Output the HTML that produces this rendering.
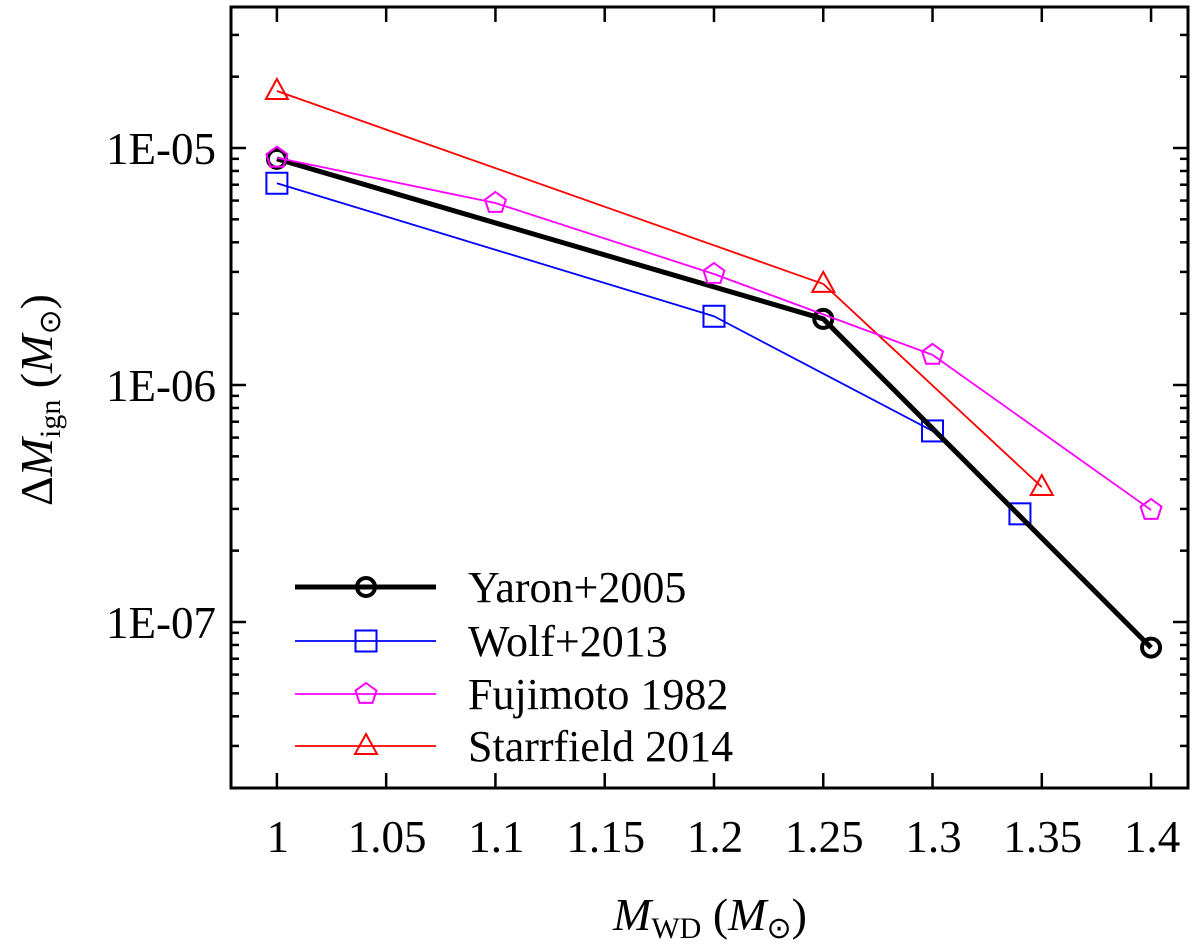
<!DOCTYPE html>
<html><head><meta charset="utf-8"><style>
body{margin:0;background:#fff}
svg text{font-family:"Liberation Serif",serif;fill:#000}
</style></head><body>
<svg id="c" width="1200" height="946" xmlns="http://www.w3.org/2000/svg"></svg>
<script>
const xTicks=[1,1.05,1.1,1.15,1.2,1.25,1.3,1.35,1.4];
const xTickLabels=["1","1.05","1.1","1.15","1.2","1.25","1.3","1.35","1.4"];
const yMajor=[1e-5,1e-6,1e-7];
const yMajorLabels=["1E-05","1E-06","1E-07"];
const yaronX=[1.0,1.25,1.4];
const yaronY=[9.0e-6,1.9e-6,7.8e-8];
const wolfX=[1.0,1.2,1.3,1.34];
const wolfY=[7.1e-6,1.95e-6,6.4e-7,2.86e-7];
const fujiX=[1.0,1.1,1.2,1.3,1.4];
const fujiY=[9.1e-6,5.86e-6,2.94e-6,1.34e-6,2.97e-7];
const starX=[1.0,1.25,1.35];
const starY=[1.74e-5,2.67e-6,3.71e-7];
const L=231,R=1188,T=7,B=788;
const X0=0.979,X1=1.4169;
function sx(v){return L+(v-X0)/(X1-X0)*(R-L);}
function sy(v){return 148-(Math.log10(v)+5)*237;}
const svg=document.getElementById('c');
const NS="http://www.w3.org/2000/svg";
function mk(tag,attrs,parent){const e=document.createElementNS(NS,tag);for(const k in attrs)e.setAttribute(k,attrs[k]);(parent||svg).appendChild(e);return e;}
for(let i=0;i<xTicks.length;i++){
  const x=sx(xTicks[i]);
  const t1=mk('line',{x1:x,y1:B,x2:x,y2:B-15,stroke:'#000','stroke-width':2.5});
  
  
  mk('line',{x1:x,y1:T,x2:x,y2:T+15,stroke:'#000','stroke-width':2.5});
  const tl=mk('text',{x:x+1,y:852,'font-size':45,'text-anchor':'middle'});
  tl.textContent=xTickLabels[i];
  
  
}
for(let d=-8;d<=-5;d++){
  for(let m=1;m<=9;m++){
    const v=m*Math.pow(10,d);
    const y=sy(v);
    if(y<T+1||y>B-1)continue;
    const len=m===1?15:8;
    const t=mk('line',{x1:L,y1:y,x2:L+len,y2:y,stroke:'#000','stroke-width':2.5});
    
    
    mk('line',{x1:R,y1:y,x2:R-len,y2:y,stroke:'#000','stroke-width':2.5});
  }
}
for(let i=0;i<yMajor.length;i++){
  const tl=mk('text',{x:216,y:sy(yMajor[i])+16,'font-size':45,'text-anchor':'end'});
  tl.textContent=yMajorLabels[i];
  
  
}
function marker(type,x,y,color,name,parent){
  let e;
  if(type==='circle')e=mk('circle',{cx:x,cy:y,r:9,fill:'none',stroke:color,'stroke-width':4},parent);
  else if(type==='square')e=mk('rect',{x:x-10.5,y:y-10.5,width:21,height:21,fill:'none',stroke:color,'stroke-width':2},parent);
  else if(type==='pent'){let p=[];for(let k=0;k<5;k++){const a=-Math.PI/2+k*2*Math.PI/5;p.push((x+11*Math.cos(a)).toFixed(1)+','+(y+11*Math.sin(a)).toFixed(1));}e=mk('polygon',{points:p.join(' '),fill:'none',stroke:color,'stroke-width':2},parent);}
  else e=mk('polygon',{points:`${x},${y-12} ${x+11},${y+8} ${x-11},${y+8}`,fill:'none',stroke:color,'stroke-width':2},parent);
  
  
}
function series(xs,ys,color,w,type,name){
  const g=mk('g',{});
  
  
  const pts=xs.map((v,i)=>sx(v)+','+sy(ys[i])).join(' ');
  const pl=mk('polyline',{points:pts,fill:'none',stroke:color,'stroke-width':w,'stroke-linejoin':'round'},g);
  
  
  xs.forEach((v,i)=>marker(type,sx(v),sy(ys[i]),color,name+'-point',g));
}
series(starX,starY,'#f00',1.8,'tri','starrfield');
series(wolfX,wolfY,'#00f',1.8,'square','wolf');
series(yaronX,yaronY,'#000',5,'circle','yaron');
series(fujiX,fujiY,'#f0f',1.8,'pent','fujimoto');
const leg=[['Yaron+2005','#000',5,'circle',587],['Wolf+2013','#00f',1.8,'square',641],['Fujimoto 1982','#f0f',1.8,'pent',694],['Starrfield 2014','#f00',1.8,'tri',746]];
const lg=mk('g',{});


leg.forEach(r=>{
  const ln=mk('line',{x1:295,y1:r[4],x2:436,y2:r[4],stroke:r[1],'stroke-width':r[2]},lg);
  
  
  marker(r[3],366,r[4],r[1],'legend-marker',lg);
  const t=mk('text',{x:468,y:r[4]+15,'font-size':44},lg);
  t.textContent=r[0];
  
  
});
const fr=mk('rect',{x:L,y:T,width:R-L,height:B-T,fill:'none',stroke:'#000','stroke-width':3});


</script>
<svg style="position:absolute;left:0;top:0" width="1200" height="946" xmlns="http://www.w3.org/2000/svg">
<text x="710" y="930" font-size="46" text-anchor="middle" font-family="Liberation Serif, serif"><tspan font-style="italic">M</tspan><tspan font-size="30" dy="8">WD</tspan><tspan dy="-8"> (</tspan><tspan font-style="italic">M</tspan><tspan font-size="30" dy="8">⊙</tspan><tspan dy="-8">)</tspan></text>
<text transform="translate(52,400) rotate(-90)" font-size="46" text-anchor="middle" font-family="Liberation Serif, serif">Δ<tspan font-style="italic">M</tspan><tspan font-size="30" dy="8">ign</tspan><tspan dy="-8"> (</tspan><tspan font-style="italic">M</tspan><tspan font-size="30" dy="8">⊙</tspan><tspan dy="-8">)</tspan></text>
</svg>
</body></html>
